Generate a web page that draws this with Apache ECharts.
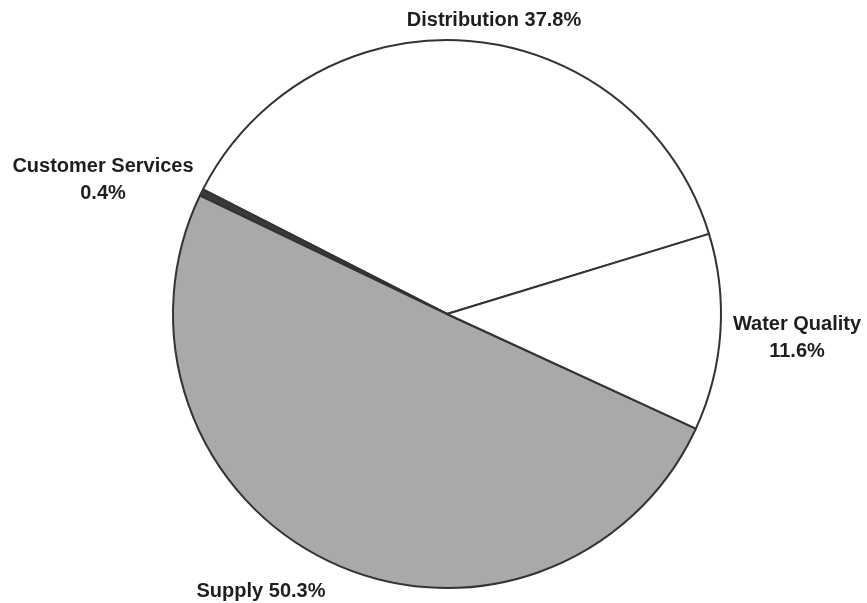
<!DOCTYPE html>
<html>
<head>
<meta charset="utf-8">
<script src="https://cdn.jsdelivr.net/npm/echarts@6/dist/echarts.min.js"></script>
<style>
  html, body { margin: 0; padding: 0; background: #fff; }
  #chart { width: 867px; height: 603px; }
</style>
</head>
<body>
<div id="chart"></div>
<script>
// Share of spending by department (percent)
const categories = ['Distribution', 'Customer Services', 'Supply', 'Water Quality'];
const shares = [37.8, 0.4, 50.3, 11.6];
const labelTexts = ['Distribution 37.8%', 'Customer Services\n0.4%', 'Supply 50.3%', 'Water Quality\n11.6%'];

const fills = ['#ffffff', '#3a3a3a', '#a9a9a9', '#ffffff'];
// Where each label sits on the page
const labelSpots = [
  { x: 494, y: 20 },
  { x: 103, y: 180 },
  { x: 261, y: 591 },
  { x: 797, y: 338 }
];

const chart = echarts.init(document.getElementById('chart'));
chart.setOption({
  animation: false,
  backgroundColor: '#ffffff',
  series: [{
    type: 'pie',
    center: [447, 314],
    radius: [0, 274],
    startAngle: 17,
    clockwise: false,
    data: categories.map((name, i) => ({
      name,
      value: shares[i],
      itemStyle: { color: fills[i] }
    })),
    itemStyle: { borderColor: '#333333', borderWidth: 2 },
    label: {
      show: true,
      position: 'outside',
      formatter: p => labelTexts[p.dataIndex],
      fontFamily: 'Liberation Sans',
      fontWeight: 'bold',
      fontSize: 20,
      lineHeight: 27,
      color: '#1e1e1e',
      align: 'center',
      overflow: 'none',
      width: 260
    },
    labelLine: { show: false },
    labelLayout: p => ({
      x: labelSpots[p.dataIndex].x,
      y: labelSpots[p.dataIndex].y,
      align: 'center',
      verticalAlign: 'middle'
    }),
    emphasis: { disabled: true }
  }]
});
</script>
</body>
</html>
